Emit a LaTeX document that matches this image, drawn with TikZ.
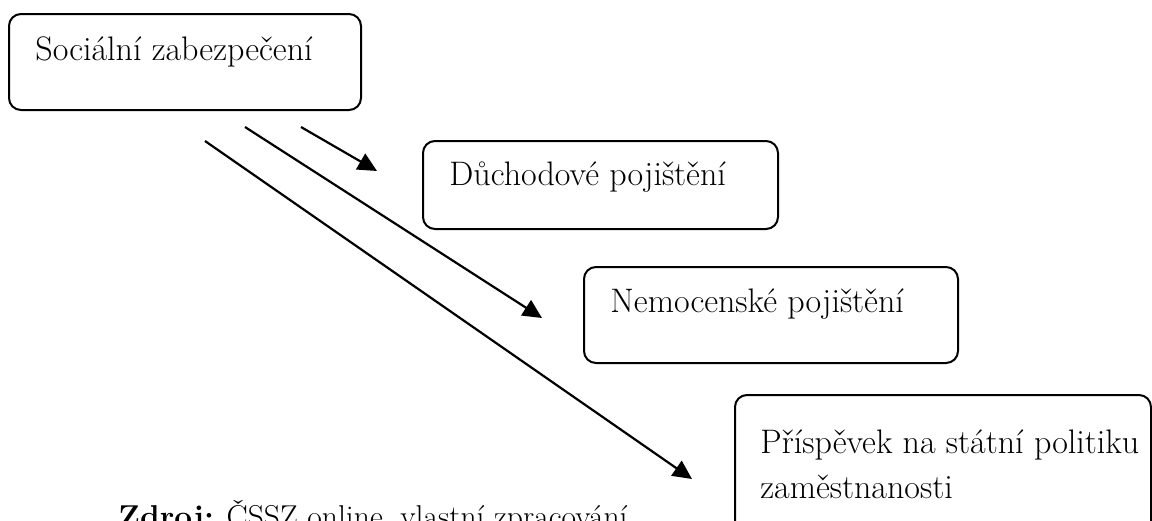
\documentclass[tikz,border=0pt]{standalone}
\usepackage{fontspec}
\usepackage{tikz}
\usetikzlibrary{arrows.meta}

\begin{document}
\begin{tikzpicture}
            [x=0.5pt, y=-0.5pt,
            box/.style={draw, line width=1pt, rounded corners=6pt, inner sep=0pt, outer sep=0pt},
            label/.style={anchor=base west, inner sep=0pt, align=left,
                font=\fontsize{17}{22.5}\selectfont},
            link/.style={line width=1.1pt, -{Triangle[length=9.5pt, width=9pt]}}]

            \clip (0,0) rectangle (1152,520);

            \node[box, minimum width=176pt, minimum height=48pt] (soc) at (185,62) {};
            \node[box, minimum width=177.5pt, minimum height=44pt] (duch) at (600.5,185) {};
            \node[box, minimum width=187pt, minimum height=48pt] (nemoc) at (771,315) {};
            \node[box, minimum width=208pt, minimum height=75pt] (prisp) at (943,470) {};

            \node[label] (soctext) at (35,60) {Sociální zabezpečení};
            \node[label] (duchtext) at (449,185) {Důchodové pojištění};
            \node[label] (nemoctext) at (610,312) {Nemocenské pojištění};
            \node[label] (prisptext) at (760,498) {Příspěvek na státní politiku\\zaměstnanosti};

            \coordinate (from duch) at (301,127);
            \coordinate (to duch) at (377,171);
            \coordinate (from nemoc) at (245,127);
            \coordinate (to nemoc) at (542,318);
            \coordinate (from prisp) at (205,141);
            \coordinate (to prisp) at (692,479);

            \draw[link] (from duch) -- (to duch);
            \draw[link] (from nemoc) -- (to nemoc);
            \draw[link] (from prisp) -- (to prisp);

            \node[anchor=base west, inner sep=0pt, font=\fontsize{15.8}{18}\selectfont] (zdroj) at (118,527)
                {\textbf{Zdroj:} ČSSZ online, vlastní zpracování};
        \end{tikzpicture}
\end{document}
